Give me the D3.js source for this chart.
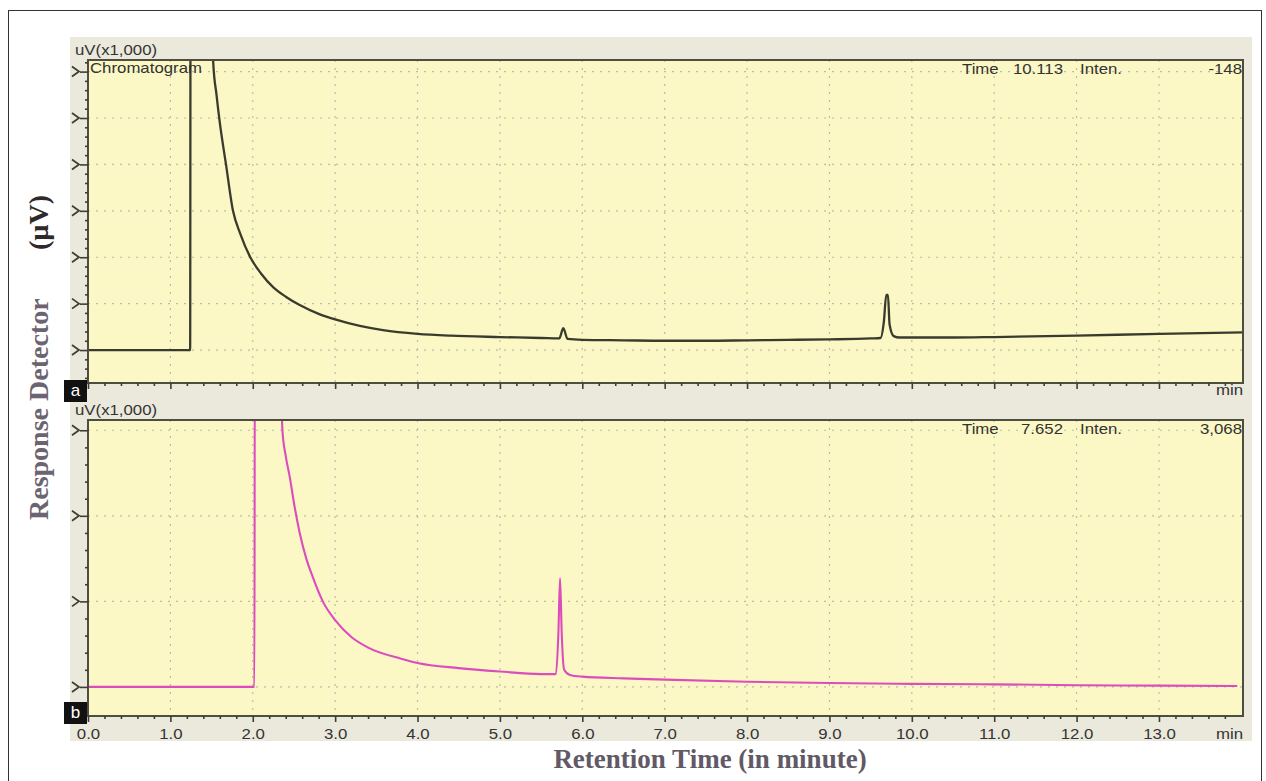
<!DOCTYPE html>
<html>
<head>
<meta charset="utf-8">
<script src="https://cdn.jsdelivr.net/npm/d3@7"></script>
<style>
  body { margin: 0; background: #fff; }
  svg { display: block; }
</style>
</head>
<body>
<div id="chart"></div>
<script>
// Chromatogram a (dark trace): retention time (min) / intensity (uV x1,000, tick units)
const timeA = [0, 1.24, 1.245, 1.50, 1.52, 1.56, 1.60, 1.675, 1.76, 1.85, 1.97, 2.1, 2.25, 2.4, 2.57, 2.8, 3.0, 3.3, 3.58,
  4.0, 4.4, 5.0, 5.5, 5.72, 5.77, 5.82, 6.0, 6.5, 7.0, 7.5, 8.0, 8.5, 9.0, 9.5, 9.62, 9.66, 9.69, 9.71, 9.73, 9.78, 9.85,
  10.5, 11.0, 12.0, 13.0, 14.02];
const intenA = [0, 0, 8, 8, 6.2, 5.5, 4.9, 4.0, 3.0, 2.5, 2.0, 1.65, 1.35, 1.15, 0.97, 0.78, 0.66, 0.52, 0.43,
  0.35, 0.31, 0.28, 0.26, 0.25, 0.47, 0.24, 0.22, 0.21, 0.2, 0.2, 0.21, 0.22, 0.23, 0.25, 0.26, 0.6, 1.19, 1.19, 0.55, 0.3, 0.27,
  0.27, 0.28, 0.31, 0.35, 0.38];

// Chromatogram b (magenta trace)
const timeB = [0, 2.02, 2.025, 2.33, 2.36, 2.40, 2.45, 2.5, 2.57, 2.65, 2.73, 2.85, 3.0, 3.2, 3.4, 3.8, 4.0, 4.5, 5.0, 5.5,
  5.68, 5.71, 5.73, 5.75, 5.78, 5.85, 6.0, 6.5, 7.0, 8.0, 9.0, 10.0, 11.0, 12.0, 13.0, 13.95];
const intenB = [0, 0, 4, 4, 3.0, 2.7, 2.45, 2.15, 1.8, 1.5, 1.28, 1.0, 0.78, 0.58, 0.46, 0.33, 0.28, 0.22, 0.18, 0.15,
  0.15, 0.63, 1.27, 0.63, 0.2, 0.14, 0.12, 0.1, 0.085, 0.06, 0.045, 0.035, 0.03, 0.02, 0.015, 0.01];

const xTickValues = [0, 1, 2, 3, 4, 5, 6, 7, 8, 9, 10, 11, 12, 13];
const yTicksA = [0, 1, 2, 3, 4, 5, 6];
const yTicksB = [0, 1, 2, 3];
const headerA = { time: "10.113", inten: "-148" };
const headerB = { time: "7.652", inten: "3,068" };

const W = 1266, H = 781;
const plotL = 88, plotR = 1243;
const bgYellow = "#fbf8c5", bgGrey = "#ebe9dc", frameCol = "#4d4d42";
const labelFont = "Liberation Sans, Arial, sans-serif";
const stretch = 1.2; // the screenshot text is widened

const svg = d3.select("#chart").append("svg")
  .attr("width", W).attr("height", H);

// outer frame
svg.append("rect").attr("x", 8.5).attr("y", 10.5).attr("width", 1253).attr("height", 790)
  .attr("fill", "none").attr("stroke", "#333").attr("stroke-width", 1);

// grey window background
svg.append("rect").attr("x", 70).attr("y", 37).attr("width", 1182).attr("height", 704)
  .attr("fill", bgGrey);

const x = d3.scaleLinear().domain([0, 14.02]).range([plotL, plotR]);

// small stretched label text
function label(g, tx, ty, s, anchor) {
  return g.append("text").attr("transform", `translate(${tx},${ty}) scale(${stretch},1)`)
    .attr("text-anchor", anchor || "start").attr("font-family", labelFont).attr("font-size", 14)
    .attr("fill", "#333").text(s);
}

function drawPanel(cfg) {
  const { top, bottom, yDomain, yTicks, times, values, color, width, header, tag, showLabels, id } = cfg;
  const y = d3.scaleLinear().domain(yDomain).range([bottom, top]);
  const g = svg.append("g");

  g.append("rect").attr("x", plotL).attr("y", top).attr("width", plotR - plotL).attr("height", bottom - top)
    .attr("fill", bgYellow);

  g.append("clipPath").attr("id", id).append("rect")
    .attr("x", plotL).attr("y", top).attr("width", plotR - plotL).attr("height", bottom - top);

  // dotted grid
  g.append("g").selectAll("line").data(xTickValues.filter(d => d > 0)).join("line")
    .attr("x1", d => x(d)).attr("x2", d => x(d)).attr("y1", top).attr("y2", bottom)
    .attr("stroke", "#b9bcb0").attr("stroke-width", 1.2).attr("stroke-dasharray", "2,6");
  g.append("g").selectAll("line").data(yTicks).join("line")
    .attr("x1", plotL).attr("x2", plotR).attr("y1", d => y(d)).attr("y2", d => y(d))
    .attr("stroke", "#b9bcb0").attr("stroke-width", 1.2).attr("stroke-dasharray", "2,6");

  // trace
  const line = d3.line().x((d, i) => x(times[i])).y(d => y(d)).curve(d3.curveMonotoneX);
  g.append("path").datum(values).attr("clip-path", `url(#${id})`)
    .attr("d", line).attr("fill", "none").attr("stroke", color)
    .attr("stroke-width", width).attr("stroke-linejoin", "round");

  // frame
  g.append("rect").attr("x", plotL).attr("y", top).attr("width", plotR - plotL).attr("height", bottom - top)
    .attr("fill", "none").attr("stroke", frameCol).attr("stroke-width", 2);

  // x axis ticks (major + minor)
  const minorX = d3.range(0, 70).map(i => i * 0.2).filter(d => d < 14.01 && Math.abs(d - Math.round(d)) > 0.01);
  const xAxis = g.append("g").attr("transform", `translate(0,${bottom})`)
    .call(d3.axisBottom(x).tickValues(xTickValues).tickSize(6).tickSizeOuter(0).tickFormat(""));
  xAxis.select(".domain").remove();
  xAxis.selectAll(".tick line").attr("stroke", "#3e3e36").attr("stroke-width", 1.6);
  if (showLabels) {
    xAxis.selectAll(".tick").each(function (d) {
      label(d3.select(this), 0, 23, d3.format(".1f")(d), "middle");
    });
  }
  const xMinor = g.append("g").attr("transform", `translate(0,${bottom})`)
    .call(d3.axisBottom(x).tickValues(minorX).tickSize(3).tickFormat("").tickSizeOuter(0));
  xMinor.select(".domain").remove();
  xMinor.selectAll(".tick line").attr("stroke", "#3e3e36").attr("stroke-width", 1.6);

  label(g, 1243, bottom + (showLabels ? 23 : 12), "min", "end");

  // y axis ticks
  const yAxis = g.append("g").attr("transform", `translate(${plotL},0)`)
    .call(d3.axisLeft(y).tickValues(yTicks).tickSize(8).tickFormat("").tickSizeOuter(0));
  yAxis.select(".domain").remove();
  yAxis.selectAll(".tick line").attr("stroke", "#3e3e36").attr("stroke-width", 1.6);
  // cropped tick labels show as chevrons
  g.append("g").selectAll("path").data(yTicks).join("path")
    .attr("d", d => `M${plotL - 16},${y(d) - 5} L${plotL - 9},${y(d)} L${plotL - 16},${y(d) + 5}`)
    .attr("fill", "none").attr("stroke", "#3e3e36").attr("stroke-width", 1.8);
  const minorY = d3.range(Math.ceil(yDomain[0] * 5), Math.floor(yDomain[1] * 5) + 1).map(i => i / 5)
    .filter(d => Math.abs(d - Math.round(d)) > 0.01);
  const yMinor = g.append("g").attr("transform", `translate(${plotL},0)`)
    .call(d3.axisLeft(y).tickValues(minorY).tickSize(3).tickFormat("").tickSizeOuter(0));
  yMinor.select(".domain").remove();
  yMinor.selectAll(".tick line").attr("stroke", "#3e3e36").attr("stroke-width", 1.6);

  // header texts
  label(g, 75, top - 5, "uV(x1,000)");
  if (cfg.title) label(g, 90, top + 13, cfg.title);
  label(g, 962, top + 14, "Time");
  label(g, 1063, top + 14, header.time, "end");
  label(g, 1080, top + 14, "Inten.");
  label(g, 1242, top + 14, header.inten, "end");

  // panel tag
  g.append("rect").attr("x", 64).attr("y", cfg.tagY).attr("width", 23).attr("height", 22).attr("fill", "#111");
  g.append("text").attr("x", 75.5).attr("y", cfg.tagY + 16).attr("text-anchor", "middle")
    .attr("font-family", labelFont).attr("font-size", 17).attr("fill", "#fff").text(tag);
}

drawPanel({ id: "clipA", top: 60, bottom: 383, yDomain: [-0.71, 6.25], yTicks: yTicksA,
  times: timeA, values: intenA, color: "#3a3b2e", width: 2.3, header: headerA, tag: "a", tagY: 380,
  showLabels: false, title: "Chromatogram" });
drawPanel({ id: "clipB", top: 420, bottom: 716, yDomain: [-0.34, 3.12], yTicks: yTicksB,
  times: timeB, values: intenB, color: "#dc4cbd", width: 2.1, header: headerB, tag: "b", tagY: 702,
  showLabels: true });

// axis titles
const serif = "Liberation Serif, 'DejaVu Serif', serif";
svg.append("text").attr("transform", "translate(48,520) rotate(-90)")
  .attr("text-anchor", "start").attr("font-family", serif).attr("font-size", 28).attr("font-weight", "bold")
  .attr("fill", "#6c6470").text("Response Detector");
svg.append("text").attr("transform", "translate(48,250) rotate(-90)")
  .attr("text-anchor", "start").attr("font-family", serif).attr("font-size", 28).attr("font-weight", "bold")
  .attr("fill", "#2e2a2c").text("(µV)");

svg.append("text").attr("x", 710).attr("y", 768).attr("text-anchor", "middle")
  .attr("font-family", serif).attr("font-size", 27).attr("font-weight", "bold")
  .attr("fill", "#615a66").text("Retention Time (in minute)");
</script>
</body>
</html>
